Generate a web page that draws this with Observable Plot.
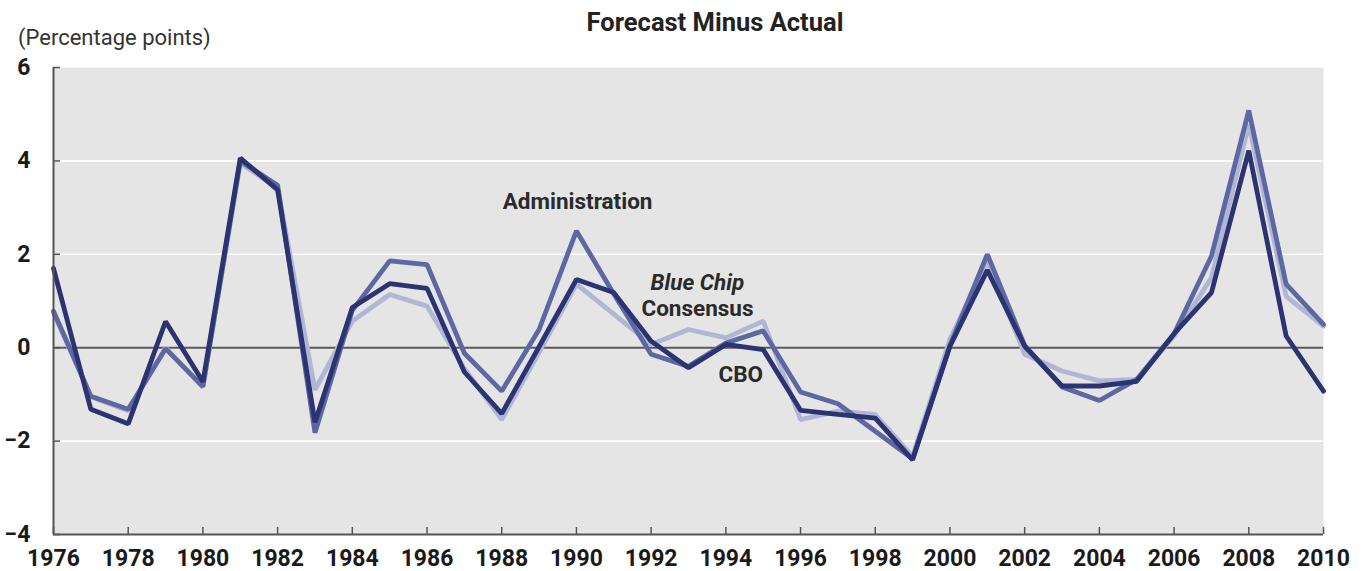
<!DOCTYPE html>
<html><head><meta charset="utf-8">
<script src="https://cdn.jsdelivr.net/npm/d3@7"></script>
<script src="https://cdn.jsdelivr.net/npm/@observablehq/plot@0.6"></script>
<style>
body{margin:0;background:#fff;font-family:Roboto,"Noto Sans",sans-serif;}
#wrap{position:relative;width:1364px;}
#head{position:relative;height:52px;}
#title{position:absolute;left:465px;width:500px;text-align:center;top:7px;font-weight:bold;font-size:25.5px;color:#222;}
#unit{position:absolute;left:18px;top:25px;font-size:22px;color:#333;}
svg{display:block;}
</style></head>
<body>
<div id="wrap">
<div id="head"><div id="title">Forecast Minus Actual</div><div id="unit">(Percentage points)</div></div>
<div id="chart"></div>
</div>
<script>
const years = [1976,1977,1978,1979,1980,1981,1982,1983,1984,1985,1986,1987,1988,1989,1990,1991,1992,1993,1994,1995,1996,1997,1998,1999,2000,2001,2002,2003,2004,2005,2006,2007,2008,2009,2010];
const cbo = [1.7,-1.32,-1.63,0.56,-0.73,4.06,3.38,-1.6,0.86,1.37,1.27,-0.52,-1.41,0.02,1.46,1.18,0.14,-0.43,0.07,-0.04,-1.34,-1.43,-1.51,-2.4,0.03,1.66,0.03,-0.82,-0.82,-0.72,0.3,1.18,4.22,0.25,-0.93];
const administration = [0.78,-1.04,-1.32,-0.02,-0.83,4.0,3.48,-1.82,0.8,1.86,1.78,-0.12,-0.93,0.39,2.5,1.15,-0.14,-0.4,0.1,0.36,-0.95,-1.2,-1.79,-2.38,0.05,2.0,0.05,-0.84,-1.13,-0.68,0.3,1.96,5.08,1.36,0.5];
const blueChip = [0.75,-1.05,-1.35,0.0,-0.85,3.95,3.42,-0.9,0.57,1.14,0.89,-0.45,-1.54,-0.1,1.36,0.72,0.07,0.39,0.21,0.57,-1.54,-1.36,-1.43,-2.33,0.18,1.85,-0.14,-0.5,-0.71,-0.68,0.25,1.5,4.78,1.1,0.46];
const xTicks = [1976,1978,1980,1982,1984,1986,1988,1990,1992,1994,1996,1998,2000,2002,2004,2006,2008,2010];
const yTicks = [-4,-2,0,2,4,6];
const gridValues = [-2,2,4];
const labelNames = ["Administration","Consensus","CBO"];
const labelX = [1990.03,1993.24,1994.4];
const labelY = [3.12,0.83,-0.59];
const italicName = ["Blue Chip"];
const italicX = [1993.24];
const italicY = [1.38];

const colors = {cbo:"#2d3270", admin:"#5f67a3", blue:"#b2b6d5"};
const series = (vals) => years.map((y,i)=>({year:y, value:vals[i]}));
const labels = labelNames.map((t,i)=>({text:t,x:labelX[i],y:labelY[i]}));
const italics = italicName.map((t,i)=>({text:t,x:italicX[i],y:italicY[i]}));
const font = 'Roboto,"Noto Sans",sans-serif';

const chart = Plot.plot({
  width:1364, height:519,
  marginLeft:53, marginRight:41, marginTop:15, marginBottom:37,
  style:{fontFamily:font, background:"transparent", overflow:"visible"},
  x:{domain:[1976,2010], label:null},
  y:{domain:[-4,6], label:null},
  marks:[
    Plot.frame({fill:"#e5e5e5", stroke:null}),
    Plot.gridY(gridValues, {stroke:"#ffffff", strokeOpacity:1, strokeWidth:1.6}),
    Plot.ruleY([0], {stroke:"#5a5a5a", strokeWidth:2}),
    Plot.line(series(blueChip), {x:"year", y:"value", stroke:colors.blue, strokeWidth:4.8, strokeLinejoin:"miter"}),
    Plot.line(series(administration), {x:"year", y:"value", stroke:colors.admin, strokeWidth:4.8, strokeLinejoin:"miter"}),
    Plot.line(series(cbo), {x:"year", y:"value", stroke:colors.cbo, strokeWidth:4.8, strokeLinejoin:"miter"}),
    Plot.ruleX([1976], {stroke:"#555", strokeWidth:2}),
    Plot.ruleY([-4], {stroke:"#555", strokeWidth:2}),
    Plot.axisX(xTicks, {tickSize:-7, tickPadding:22, tickFormat:d=>String(d), fontSize:23, fontWeight:"bold", stroke:"#555", fill:"#1a1a1a", strokeWidth:1.5}),
    Plot.axisY(yTicks, {tickSize:-7, tickPadding:30, fontSize:23, fontWeight:"bold", stroke:"#555", fill:"#1a1a1a", strokeWidth:1.5}),
    Plot.text(labels, {x:"x", y:"y", text:"text", fontSize:22.5, fontWeight:"bold", fill:"#2a2a2a"}),
    Plot.text(italics, {x:"x", y:"y", text:"text", fontSize:22.5, fontWeight:"bold", fontStyle:"italic", fill:"#2a2a2a"})
  ]
});
document.getElementById("chart").appendChild(chart);
</script>
</body></html>
